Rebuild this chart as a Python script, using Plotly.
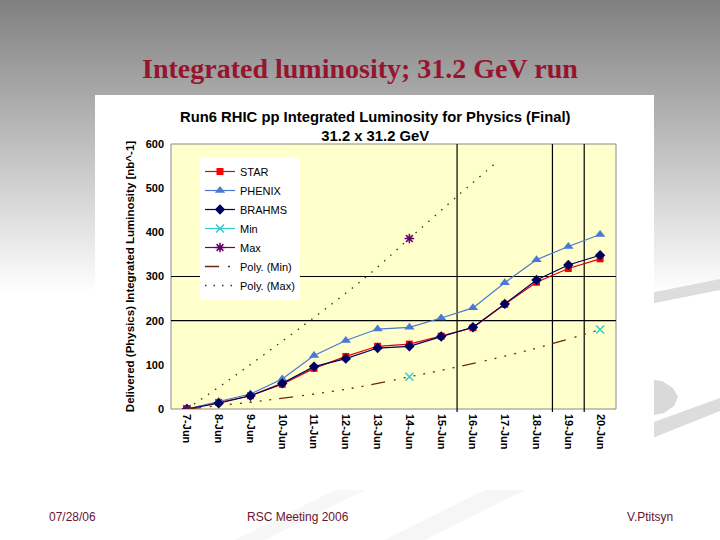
import base64
import struct
import zlib

import plotly.graph_objects as go

# ---------------- data ----------------
dates = ["7-Jun", "8-Jun", "9-Jun", "10-Jun", "11-Jun", "12-Jun", "13-Jun",
         "14-Jun", "15-Jun", "16-Jun", "17-Jun", "18-Jun", "19-Jun", "20-Jun"]
star = [0, 15, 30, 56, 92, 119, 142, 147, 165, 184, 237, 287, 318, 340]
phenix = [0, 17, 34, 68, 121, 155, 181, 185, 206, 229, 286, 338, 368, 395]
brahms = [0, 13, 30, 58, 96, 114, 138, 142, 164, 185, 238, 292, 326, 348]
min_vals = [0, None, None, None, None, None, None, 73, None, None, None, None, None, 180]
max_vals = [0, None, None, None, None, None, None, 386, None, None, None, None, None, None]
# trendlines (x in day index from 7-Jun)
poly_min_x = [0, 2.4, 5.2, 7.0, 8.1, 10.8, 13.0]
poly_min_y = [0, 19, 47, 73, 89, 134, 180]
poly_max_x = [0, 1.25, 3.7, 5.6, 7.0, 8.57, 9.65]
poly_max_y = [0, 62, 191, 297, 386, 486, 553]
marker_days = [8.5, 11.5, 12.5]
ref_levels = [200, 300]

slide_title = "Integrated luminosity; 31.2 GeV run"
chart_title = "Run6 RHIC pp Integrated Luminosity for Physics (Final)<br>31.2 x 31.2 GeV"
y_title = "Delivered (Physics) Integrated Luminosity [nb^-1]"
footer = ["07/28/06", "RSC Meeting 2006", "V.Ptitsyn"]

# ---------------- geometry ----------------
W, H = 720, 540
PL, PR, PT, PB = 171, 616, 144, 409


def px(x):
    return (x - PL) / (PR - PL)


def py(y):
    return (PB - y) / (PB - PT)


def gradient_png(height, top_g, end_y):
    rows = b""
    for y in range(height):
        g = top_g + (255 - top_g) * min(y / end_y, 1.0)
        rows += b"\x00" + bytes([int(round(g))])

    def chunk(tag, data):
        c = struct.pack(">I", len(data)) + tag + data
        return c + struct.pack(">I", zlib.crc32(tag + data) & 0xFFFFFFFF)

    png = b"\x89PNG\r\n\x1a\n"
    png += chunk(b"IHDR", struct.pack(">IIBBBBB", 1, height, 8, 0, 0, 0, 0))
    png += chunk(b"IDAT", zlib.compress(rows))
    png += chunk(b"IEND", b"")
    return "data:image/png;base64," + base64.b64encode(png).decode()


xi = list(range(len(dates)))
FONT = "Liberation Sans, Arial, sans-serif"

fig = go.Figure()
fig.add_trace(go.Scatter(x=xi, y=star, name="STAR", mode="lines+markers",
                         line=dict(color="#e00000", width=1.2),
                         marker=dict(symbol="square", size=7, color="#ff0000")))
fig.add_trace(go.Scatter(x=xi, y=phenix, name="PHENIX", mode="lines+markers",
                         line=dict(color="#4a78d0", width=1.2),
                         marker=dict(symbol="triangle-up", size=9, color="#4a78d8")))
fig.add_trace(go.Scatter(x=xi, y=brahms, name="BRAHMS", mode="lines+markers",
                         line=dict(color="#000060", width=1.2),
                         marker=dict(symbol="diamond", size=8, color="#000060")))
fig.add_trace(go.Scatter(x=xi, y=min_vals, name="Min", mode="lines+markers",
                         line=dict(color="#33cccc", width=1.2),
                         marker=dict(symbol="x-thin-open", size=8,
                                     line=dict(color="#33cccc", width=1.5))))
fig.add_trace(go.Scatter(x=xi, y=max_vals, name="Max", mode="lines+markers",
                         line=dict(color="#660066", width=1.2),
                         marker=dict(symbol="asterisk-open", size=8,
                                     line=dict(color="#660066", width=1.5))))
fig.add_trace(go.Scatter(x=poly_min_x, y=poly_min_y, name="Poly. (Min)", mode="lines",
                         line=dict(color="#6b2a10", width=1.3, shape="spline",
                                   dash="14px,9px,2px,8px,2px,8px,2px,8px,2px,8px,2px,8px,2px,8px,2px,8px")))
fig.add_trace(go.Scatter(x=poly_max_x, y=poly_max_y, name="Poly. (Max)", mode="lines",
                         line=dict(color="#333322", width=1.3, shape="spline",
                                   dash="1.5px,7px")))

GRAD_H = 300
images = [dict(source=gradient_png(GRAD_H, 128, 292), xref="paper", yref="paper",
               x=px(0), y=py(0), sizex=px(W) - px(0), sizey=py(0) - py(GRAD_H),
               xanchor="left", yanchor="top", sizing="stretch", layer="below")]


def poly(points, color):
    d = "M " + " L ".join(f"{px(a):.5f},{py(b):.5f}" for a, b in points) + " Z"
    return dict(type="path", xref="paper", yref="paper", layer="below", path=d,
                line=dict(width=0), fillcolor=color)


shapes = []
# decorative swooshes
shapes.append(poly([(640, 295), (720, 279), (720, 290), (640, 306)], "#dddddd"))
shapes.append(poly([(640, 378), (662, 381), (673, 388), (678, 397), (674, 406),
                    (664, 413), (640, 418)], "#d9d9d9"))
shapes.append(poly([(640, 427), (720, 398), (720, 411), (640, 443)], "#dcdcdc"))
shapes.append(poly([(235, 540), (335, 490), (365, 490), (265, 540)], "#f7f7f7"))
shapes.append(poly([(385, 540), (485, 490), (525, 490), (425, 540)], "#f6f6f6"))
# white chart box
shapes.append(dict(type="rect", xref="paper", yref="paper", layer="below",
                   x0=px(95), x1=px(654), y0=py(457), y1=py(95),
                   line=dict(width=0), fillcolor="white"))
# plot area
shapes.append(dict(type="rect", xref="paper", yref="paper", layer="below",
                   x0=0, x1=1, y0=0, y1=1,
                   line=dict(width=1, color="#8a8a8a"), fillcolor="#ffffcc"))
for lv in ref_levels:
    shapes.append(dict(type="line", xref="paper", yref="y", layer="below",
                       x0=0, x1=1, y0=lv, y1=lv, line=dict(color="black", width=1.2)))
for d in marker_days:
    shapes.append(dict(type="line", xref="x", yref="paper", layer="below",
                       x0=d, x1=d, y0=-3 / (PB - PT), y1=1,
                       line=dict(color="black", width=1.2)))

annotations = [
    dict(text=slide_title, xref="paper", yref="paper", x=px(360), y=py(68),
         showarrow=False, xanchor="center", yanchor="middle",
         font=dict(family="Liberation Serif, Times New Roman, serif", size=28,
                   color="#97142f", weight="bold")),
    dict(text=chart_title, xref="paper", yref="paper", x=px(375), y=py(126),
         showarrow=False, xanchor="center", yanchor="middle",
         font=dict(family=FONT, size=14.8, color="black", weight="bold")),
]
for txt, x in zip(footer, [72, 298, 650]):
    annotations.append(dict(text=txt, xref="paper", yref="paper", x=px(x), y=py(517),
                            showarrow=False, xanchor="center", yanchor="middle",
                            font=dict(family=FONT, size=12, color="#6b1530")))

fig.update_layout(
    width=W, height=H,
    margin=dict(l=PL, r=W - PR, t=PT, b=H - PB, pad=0),
    paper_bgcolor="white", plot_bgcolor="rgba(0,0,0,0)",
    images=images, shapes=shapes, annotations=annotations,
    showlegend=True,
    legend=dict(x=px(200), y=py(157), xanchor="left", yanchor="top",
                bgcolor="white", borderwidth=0, tracegroupgap=0,
                font=dict(family=FONT, size=11, color="black"),
                itemwidth=30),
    xaxis=dict(range=[-0.5, 13.5], tickvals=xi, ticktext=dates, tickangle=90,
               showgrid=False, zeroline=False, showline=False, ticks="",
               ticklabelstandoff=4,
               tickfont=dict(family=FONT, size=11, color="black", weight="bold")),
    yaxis=dict(range=[0, 600], dtick=100, showgrid=False, zeroline=False,
               showline=False, ticks="", ticklabelstandoff=6,
               tickfont=dict(family=FONT, size=11, color="black", weight="bold"),
               title=dict(text=y_title, standoff=8,
                          font=dict(family=FONT, size=11.5, color="black", weight="bold"))),
)

fig.write_html("out.html")
